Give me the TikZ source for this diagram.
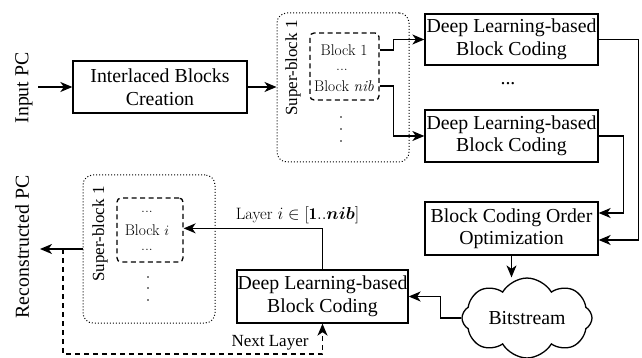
\documentclass[tikz,border=0pt]{standalone}
\usepackage{amsmath,bm}
\usepackage{fontspec}
\newfontfamily\tnr{Liberation Serif}
\usetikzlibrary{arrows.meta,shapes.symbols,calc}
\begin{document}
\begin{tikzpicture}[x=1pt,y=-1pt,
  line width=1.3pt,
  arr/.style={-{Stealth[length=12pt,width=10pt,inset=3.5pt]}},
  bigtxt/.style={font=\tnr\fontsize{19.8}{22.5}\selectfont},
  smalltxt/.style={font=\fontsize{15.5}{17}\selectfont},
  labtxt/.style={font=\tnr\fontsize{17}{19}\selectfont},
  procbox/.style={draw,rectangle,bigtxt,align=center,inner sep=0pt},
  superbox/.style={draw,dotted,rounded corners=10pt,line width=1pt,inner sep=0pt},
  innerbox/.style={draw,dash pattern=on 5pt off 3.5pt,rounded corners=4pt,inner sep=0pt,line width=1.3pt},
  dashline/.style={dash pattern=on 5pt off 4pt},
  dotnode/.style={circle,fill,inner sep=0pt,minimum size=1.8pt}
]
\useasboundingbox (0,0) rectangle (642,358);

% ---- top row ----
\node[bigtxt,rotate=90] (inpc) at (24,88) {Input PC};
\coordinate (inarr) at (38,87);
\node[procbox,minimum width=174pt,minimum height=52pt] (ibc) at (160,87) {Interlaced Blocks\\Creation};
\node[superbox,minimum width=132pt,minimum height=149pt] (sb1) at (343,87.5) {};
\node[labtxt,rotate=90] (sb1l) at (293,68) {Super-block 1};
\node[innerbox,minimum width=69pt,minimum height=67pt] (ib1) at (344.5,66.5) {};
\node[smalltxt] (b1) at (344,50) {Block 1};
\node[smalltxt] (b1d) at (342,70) {...};
\node[smalltxt] (bnib) at (344,86) {Block \textit{nib}};
\node[dotnode] (v1) at (341,117) {};
\node[dotnode] (v2) at (341,129) {};
\node[dotnode] (v3) at (341,141) {};

\node[procbox,minimum width=173pt,minimum height=51pt] (dl1) at (511.5,39.5) {Deep Learning-based\\Block Coding};
\node[bigtxt] (dld) at (508,84) {...};
\node[procbox,minimum width=173pt,minimum height=52pt] (dl2) at (511.5,136) {Deep Learning-based\\Block Coding};

\node[procbox,minimum width=173pt,minimum height=53pt] (bcoo) at (511.5,228.5) {Block Coding Order\\Optimization};
\node[cloud,draw,cloud puffs=8,cloud puff arc=120,aspect=1.8,minimum width=130pt,minimum height=66pt,bigtxt,inner sep=0pt] (bs) at (527,318) {Bitstream};

\node[procbox,minimum width=171pt,minimum height=53pt] (dl3) at (322.5,296.5) {Deep Learning-based\\Block Coding};

% ---- bottom-left ----
\node[bigtxt,rotate=90] (recpc) at (22,247) {Reconstructed PC};
\coordinate (outarr) at (40,249);
\node[superbox,minimum width=132pt,minimum height=148pt] (sb2) at (149,249) {};
\node[labtxt,rotate=90] (sb2l) at (100,234) {Super-block 1};
\node[innerbox,minimum width=66pt,minimum height=64pt] (ib2) at (150,230) {};
\node[smalltxt] (b2u) at (147,212) {...};
\node[smalltxt] (bi) at (147,230) {Block $i$};
\node[smalltxt] (b2d) at (147,250) {...};
\node[dotnode] (w1) at (148,277) {};
\node[dotnode] (w2) at (148,288) {};
\node[dotnode] (w3) at (148,300) {};

% ---- connectors ----
\draw[arr] (inarr) -- (ibc.west);
\draw[arr] (ibc.east) -- (sb1.west |- ibc.east);
\draw[arr] (ib1.east |- b1) -- ++(14,0) |- (dl1.west);
\draw[arr] (ib1.east |- bnib) -- ++(14,0) |- (dl2.west);
\draw[arr] (dl1.east) -- ++(40,0) |- ($(bcoo.east)+(0,11.5)$);
\draw[arr] (dl2.east) -- ++(25,0) |- ($(bcoo.east)+(0,-15.5)$);
\draw[arr] (bcoo.south) -- (bcoo.south |- bs.north);
\draw[arr] (bs.west) -- ++(-21,0) |- (dl3.east);
\draw[arr] (dl3.north) -- ++(0,-41) coordinate (lcorner) -- (lcorner -| ib2.east)
  node[font=\fontsize{16.5}{18}\selectfont,pos=0.18,above=1pt] (laylab) {Layer $i \in [\mathbf{1}..\bm{nib}]$};
\draw[arr] (sb2.west) -- (outarr);
\coordinate (dstart) at (63,249);
\draw[arr,dashline] (dstart) -- (63,354) -| (dl3.south);
\node[labtxt] (nextl) at (270,343) {Next Layer};
\end{tikzpicture}
\end{document}
